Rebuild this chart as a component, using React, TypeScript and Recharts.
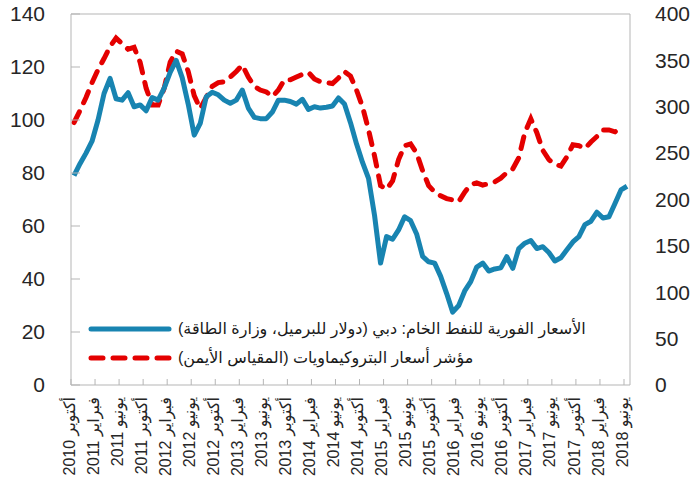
import { LineChart, Line, XAxis, YAxis, ReferenceLine } from "recharts";

// monthly, October 2010 .. June 2018
const periods: string[] = [];
for (let i = 0; i < 93; i++) {
  const m = 9 + i;
  periods.push(`${2010 + Math.floor(m / 12)}-${(m % 12) + 1}`);
}

const tickLabels = [
  "أكتوبر 2010", "فبراير 2011", "يونيو 2011", "أكتوبر 2011", "فبراير 2012", "يونيو 2012",
  "أكتوبر 2012", "فبراير 2013", "يونيو 2013", "أكتوبر 2013", "فبراير 2014", "يونيو 2014",
  "أكتوبر 2014", "فبراير 2015", "يونيو 2015", "أكتوبر 2015", "فبراير 2016", "يونيو 2016",
  "أكتوبر 2016", "فبراير 2017", "يونيو 2017", "أكتوبر 2017", "فبراير 2018", "يونيو 2018",
];

// Dubai crude spot, $/bbl (left axis)
const dubai = [
  79, 83.5, 87.5, 92, 100, 110, 115.7, 108, 107.5, 110.3, 105, 105.7, 103.5, 108.5, 107.5, 112,
  118, 122.5, 116, 106, 94.3, 98.7, 108.8, 110.5, 109.5, 107.5, 106.3, 107.5, 111.3, 104.5, 101, 100.5,
  100.5, 103, 107.5, 107.5, 107, 106, 107.8, 104, 105, 104.5, 104.8, 105.3, 108.3, 106, 99, 91,
  84, 78, 64, 46, 56, 55, 58.5, 63.5, 62, 57, 48.5, 46.5, 46, 41,
  34.5, 27.5, 30, 35.5, 39, 44.5, 46, 43, 43.8, 44.2, 48.4, 44, 51.5, 53.5, 54.5, 51.5,
  52.2, 50, 46.8, 48, 51, 54, 56, 60.5, 61.8, 65.2, 63, 63.5, 68.5, 73.6, 75,
];

// petrochemicals price index (right axis)
const petro: (number | null)[] = [
  283, 296, 310, 326, 340, 352, 365, 374, 368, 362, 364, 348, 320, 302, 302, 320,
  348, 360, 357, 338, 312, 298, 310, 322, 326, 327, 332, 338, 345, 332, 322, 318,
  316, 311, 318, 329, 329, 332, 335, 337, 330, 327, 326, 325, 331, 338, 333, 318,
  300, 275, 247, 215, 211, 220, 243, 258, 260, 250, 231, 215, 208, 204,
  201, 199.5, 197.6, 208, 216, 218, 215.6, 217, 219, 223, 229, 233, 245, 272, 287, 272,
  253, 243, 238, 236, 246, 259, 258, 255, 262, 268, 275, 275, 273, 277, null,
];

const legendNames = [
  "الأسعار الفورية للنفط الخام: دبي (دولار للبرميل، وزارة الطاقة)",
  "مؤشر أسعار البتروكيماويات (المقياس الأيمن)",
];

const data = periods.map((p, i) => ({ period: p, dubai: dubai[i], petro: petro[i] }));
const labelOf: Record<string, string> = {};
tickLabels.forEach((l, k) => (labelOf[periods[k * 4]] = l));

const BLUE = "#1884b1";
const RED = "#e40000";
const GRID = "#b5b5b5";
const FONT = "'Liberation Sans', 'DejaVu Sans', sans-serif";

const LeftTick = (props: any) => {
  const { x, y, payload } = props;
  return (
    <g>
      <line x1={x + 26} x2={x + 35} y1={y} y2={y} stroke={GRID} />
      <text x={x} y={y} dy="0.35em" textAnchor="end" fontSize={21} fill="#262626" fontFamily={FONT}>
        {payload.value}
      </text>
    </g>
  );
};

const RightTick = (props: any) => {
  const { x, y, payload } = props;
  return (
    <text x={x} y={y} dy="0.35em" textAnchor="start" fontSize={21} fill="#262626" fontFamily={FONT}>
      {payload.value}
    </text>
  );
};

const BottomTick = (props: any) => {
  const { x, y, payload } = props;
  return (
    <g>
      <line x1={x - 3} x2={x - 3} y1={y - 12} y2={y - 18} stroke={GRID} />
      <text
        transform={`translate(${x - 5},${y}) rotate(-90)`}
        dy="0.35em"
        textAnchor="end"
        fontSize={16}
        fill="#262626"
        fontFamily={FONT}
      >
        {labelOf[payload.value]}
      </text>
    </g>
  );
};

export default function App() {
  return (
    <div style={{ position: "absolute", left: 0, top: 0, width: 696, height: 500, background: "#fff" }}>
      <LineChart width={696} height={500} data={data} margin={{ top: 14, right: 0, bottom: 15, left: 0 }}>
        <XAxis
          dataKey="period"
          interval={3}
          height={100}
          padding={{ left: 3, right: 3 }}
          tickSize={0}
          tickMargin={12}
          tickLine={false}
          axisLine={{ stroke: GRID }}
          tick={<BottomTick />}
        />
        <YAxis
          yAxisId="left"
          width={71}
          domain={[0, 140]}
          ticks={[0, 20, 40, 60, 80, 100, 120, 140]}
          tickSize={0}
          tickMargin={26}
          tickLine={false}
          axisLine={{ stroke: GRID }}
          tick={<LeftTick />}
        />
        <YAxis
          yAxisId="right"
          orientation="right"
          width={66}
          domain={[0, 400]}
          ticks={[0, 50, 100, 150, 200, 250, 300, 350, 400]}
          tickSize={0}
          tickMargin={25}
          tickLine={false}
          axisLine={{ stroke: GRID }}
          tick={<RightTick />}
        />
        <ReferenceLine yAxisId="left" y={140} stroke={GRID} />
        <Line
          yAxisId="right"
          dataKey="petro"
          stroke={RED}
          strokeWidth={5}
          strokeDasharray="12 10"
          strokeLinecap="round"
          dot={false}
          isAnimationActive={false}
        />
        <Line
          yAxisId="left"
          dataKey="dubai"
          stroke={BLUE}
          strokeWidth={5}
          strokeLinejoin="round"
          dot={false}
          isAnimationActive={false}
        />
      </LineChart>
      <div style={{ position: "absolute", left: 88, top: 314, fontFamily: FONT, fontSize: 16, color: "#1a1a1a" }}>
        {legendNames.map((name, i) => (
          <div key={i} style={{ display: "flex", alignItems: "center", height: 29, whiteSpace: "nowrap" }}>
            <svg width={84} height={10} style={{ marginRight: 6 }}>
              <line
                x1={3}
                x2={81}
                y1={5}
                y2={5}
                stroke={i === 0 ? BLUE : RED}
                strokeWidth={5}
                strokeLinecap="round"
                strokeDasharray={i === 0 ? undefined : "12 10"}
              />
            </svg>
            <span dir="rtl">{name}</span>
          </div>
        ))}
      </div>
    </div>
  );
}
